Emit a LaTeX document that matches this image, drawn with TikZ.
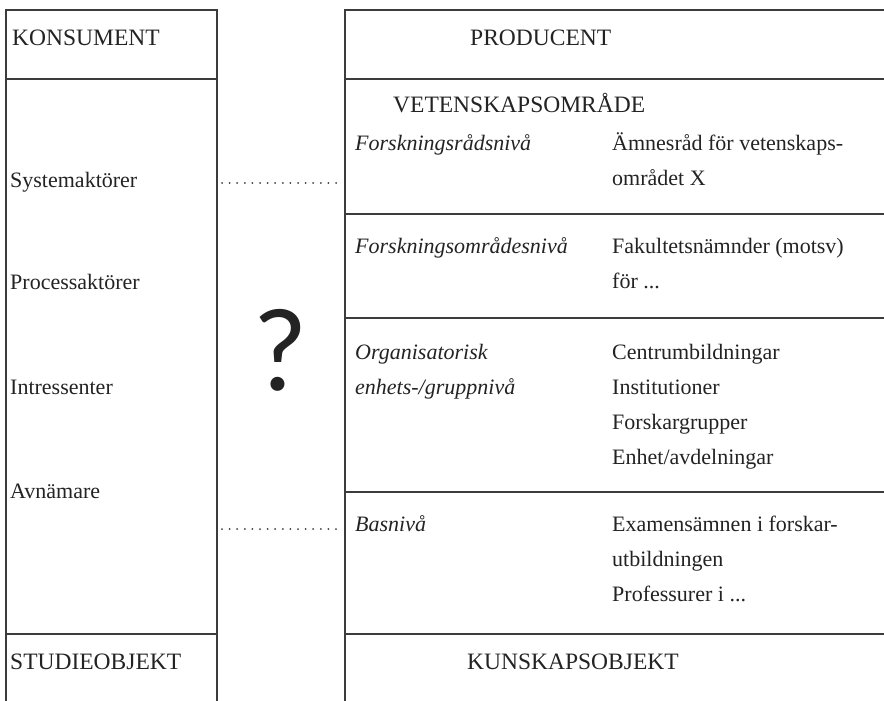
\documentclass[tikz,border=0pt]{standalone}
\usepackage{fontspec}
\setmainfont{Liberation Serif}
\newfontfamily\qmarkfont{Lato}
\usetikzlibrary{positioning}
\definecolor{rulegray}{RGB}{60,60,60}
\definecolor{inkgray}{RGB}{35,35,35}
\tikzset{
  frame/.style={draw=rulegray,line width=1.2pt},
  txt/.style={anchor=base west,inner sep=0pt,text=inkgray,font=\fontsize{22}{35}\selectfont,align=left},
  hdr/.style={txt,font=\fontsize{23.5}{35}\selectfont},
  lvl/.style={txt,font=\fontsize{22}{35}\selectfont\itshape},
  dotline/.style={draw=rulegray,line width=2pt,dash pattern=on 0pt off 7.6pt,line cap=round},
}
\begin{document}
\begin{tikzpicture}[x=1pt,y=-1pt]
  \useasboundingbox (0,0) rectangle (884,701);
  % frames
  \draw [frame] (6,701) -- (6,10) -- (217,10) -- (217,701);
  \draw [frame] (884,10) -- (345,10) -- (345,701);
  \draw [frame] (6,79) -- (217,79) (345,79) -- (884,79);
  \draw [frame] (345,214) -- (884,214) (345,318) -- (884,318) (345,492) -- (884,492);
  \draw [frame] (6,634) -- (217,634) (345,634) -- (884,634);
  % headings
  \node (kons) at (12,46) [hdr] {KONSUMENT};
  \node (prod) at (470,46) [hdr] {PRODUCENT};
  \node (vet) at (393,113) [hdr] {VETENSKAPSOMRÅDE};
  \node (stud) at (10,669) [hdr] {STUDIEOBJEKT};
  \node (kunsk) at (467,669) [hdr] {KUNSKAPSOBJEKT};
  % konsument side
  \node (sys) at (10,187) [txt] {Systemaktörer};
  \node (proc) at (10,289) [txt] {Processaktörer};
  \node (intr) at (10,394) [txt] {Intressenter};
  \node (avn) at (10,498) [txt] {Avnämare};
  % producent side (base of a multi-line node is its last line)
  \node (frn) at (355,150) [lvl] {Forskningsrådsnivå};
  \node (amne) at (612,185) [txt] {Ämnesråd för vetenskaps-\\området X};
  \node (fon) at (355,253) [lvl] {Forskningsområdesnivå};
  \node (fak) at (612,288) [txt] {Fakultetsnämnder (motsv)\\för ...};
  \node (org) at (355,394) [lvl] {Organisatorisk\\enhets-/gruppnivå};
  \node (cent) at (612,464) [txt] {Centrumbildningar\\Institutioner\\Forskargrupper\\Enhet/avdelningar};
  \node (bas) at (355,531) [lvl] {Basnivå};
  \node (exam) at (612,601) [txt] {Examensämnen i forskar-\\utbildningen\\Professurer i ...};
  % question mark and dots
  \node (q) at (281,350) [inner sep=0pt,text=inkgray,font=\fontsize{112}{112}\qmarkfont] {?};
  \coordinate (d1a) at (222,183);
  \coordinate (d1b) at (342,183);
  \coordinate (d2a) at (222,529);
  \coordinate (d2b) at (342,529);
  \draw [dotline] (d1a) -- (d1b);
  \draw [dotline] (d2a) -- (d2b);
\end{tikzpicture}
\end{document}
